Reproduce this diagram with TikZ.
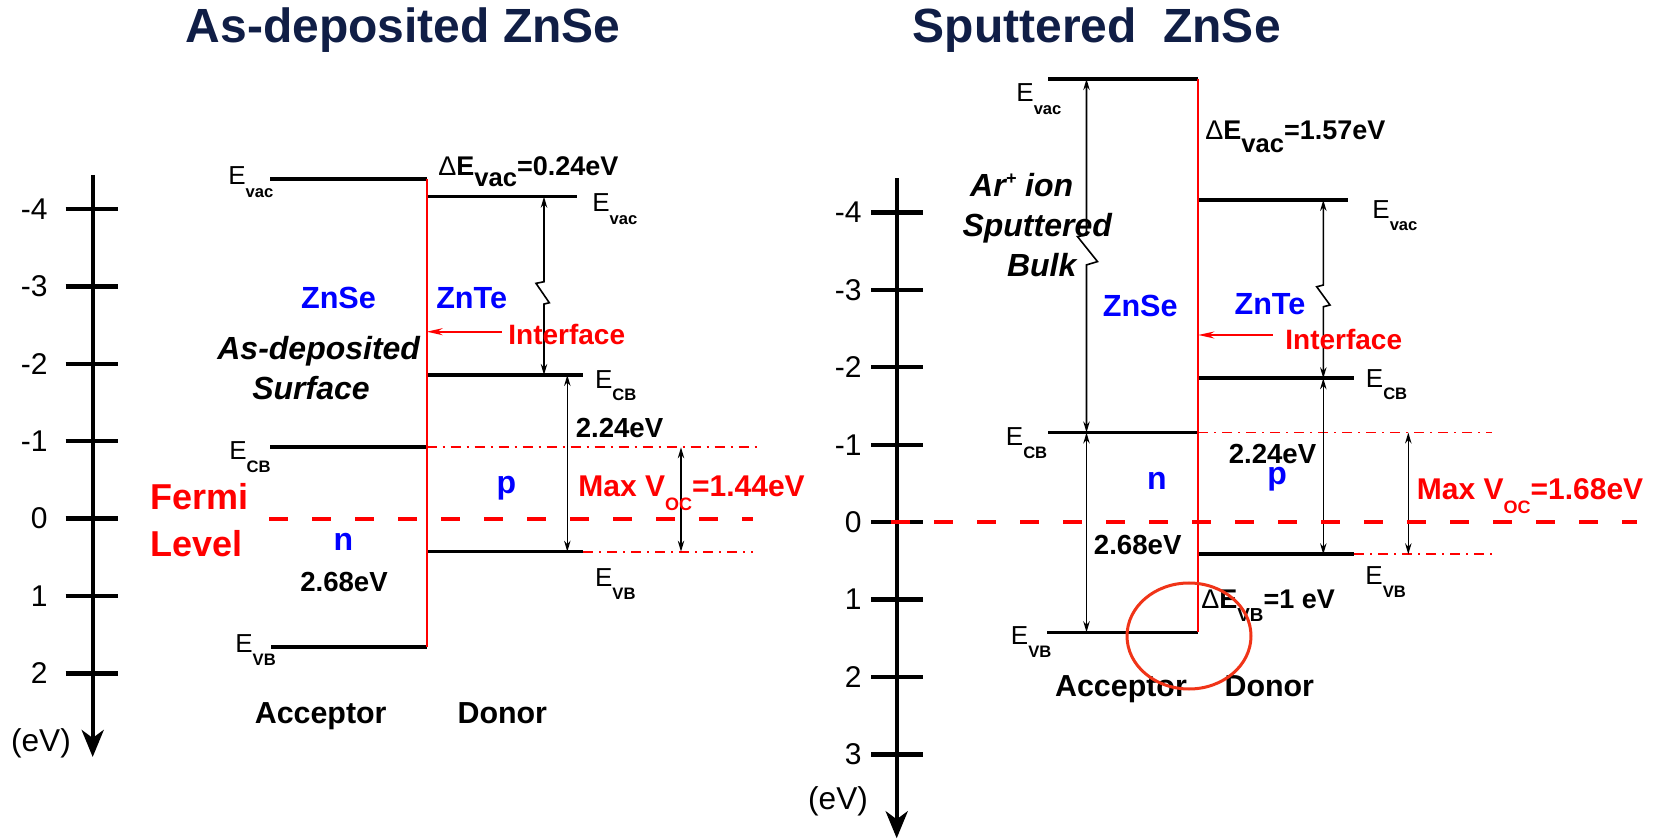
\documentclass[tikz,border=0pt]{standalone}
\usepackage{fontspec}
\setmainfont{Liberation Sans}
\usetikzlibrary{arrows.meta,calc}
\definecolor{titlenavy}{RGB}{16,30,70}
\definecolor{ringred}{RGB}{240,52,24}
\newcommand{\fs}[1]{\fontsize{#1}{#1}\selectfont}
\newcommand{\elev}[1]{E\raisebox{-6.2pt}{\fs{8.3}\bfseries #1}}
\tikzset{
  level/.style={line width=1.8pt},
  axisline/.style={line width=2.2pt},
  junction/.style={red, line width=1pt},
  fermi/.style={red, line width=2pt, dash pattern=on 9.25pt off 12.25pt},
  guide/.style={red, line width=0.85pt, dash pattern=on 5pt off 3pt on 1pt off 3pt},
  meas/.style={<->, >={Stealth[length=5.5pt,width=3.2pt]}, line width=0.8pt},
  iface/.style={red, line width=0.9pt, -{Stealth[length=8pt,width=3.5pt]}},
  titletxt/.style={inner sep=0pt, anchor=base, font=\fs{24}\bfseries, text=titlenavy},
  ticklab/.style={inner sep=0pt, anchor=east, font=\fs{15}},
  elab/.style={inner sep=0pt, anchor=base west, font=\fs{13}},
  dlab/.style={inner sep=0pt, anchor=base west, font=\fs{13.5}\bfseries},
  valtxt/.style={inner sep=0pt, anchor=base, font=\fs{13.8}\bfseries},
  mattxt/.style={inner sep=0pt, anchor=base, font=\fs{15.3}\bfseries, text=blue},
  doptxt/.style={inner sep=0pt, anchor=base, font=\fs{16}\bfseries, text=blue},
  surftxt/.style={inner sep=0pt, anchor=base, font=\fs{16}\bfseries\itshape},
  redlab/.style={inner sep=0pt, anchor=base west, font=\fs{14}\bfseries, text=red},
  voctxt/.style={inner sep=0pt, anchor=base west, font=\fs{15}\bfseries, text=red},
  fermitxt/.style={inner sep=0pt, anchor=base west, font=\fs{18}\bfseries, text=red},
  sidetxt/.style={inner sep=0pt, anchor=base, font=\fs{15.2}\bfseries}
}
\begin{document}
\begin{tikzpicture}[x=0.5pt,y=-0.5pt]
\useasboundingbox (0,0) rectangle (1661,839);
\node[titletxt] (titleA) at (403.3,43) {As-deposited ZnSe};
\node[titletxt] (titleB) at (1096.7,43) {Sputtered\ \ ZnSe};

\coordinate (axAtop) at (92.7,175);
\coordinate (axAend) at (92.7,757);
\draw[axisline,-{Stealth[length=13.5pt,width=11pt,inset=4pt]}] (axAtop) -- (axAend);
\foreach \v [count=\i] in {-4,...,2} {
  \draw[axisline] (65.7,{518.6+77.4*(\v)}) -- (117.7,{518.6+77.4*(\v)});
  \node[ticklab] (tickA\i) at (48,{518.6+77.4*(\v)}) {\v};
}
\node[inner sep=0pt, font=\fs{15.8}] (unitA) at (41,743) {(eV)};

\coordinate (axBtop) at (896.7,178.3);
\coordinate (axBend) at (896.7,838.3);
\draw[axisline,-{Stealth[length=13.5pt,width=11pt,inset=4pt]}] (axBtop) -- (axBend);
\foreach \v [count=\i] in {-4,...,3} {
  \draw[axisline] (871,{522.2+77.45*(\v)}) -- (923.3,{522.2+77.45*(\v)});
  \node[ticklab] (tickB\i) at (862,{522.2+77.45*(\v)}) {\v};
}
\node[inner sep=0pt, font=\fs{15.8}] (unitB) at (838,801.5) {(eV)};

\coordinate (asVac1) at (270,179);    \coordinate (asVac2) at (426.7,179);
\coordinate (asCB1) at (270,447.3);   \coordinate (asCB2) at (426.7,447.3);
\coordinate (asVB1) at (271,647);     \coordinate (asVB2) at (426.7,647);
\coordinate (teVac1) at (428.3,196.7); \coordinate (teVac2) at (577.3,196.7);
\coordinate (teCB1) at (428.3,375);   \coordinate (teCB2) at (583.3,375);
\coordinate (teVB1) at (428.3,551.7); \coordinate (teVB2) at (583.3,551.7);
\foreach \a in {asVac,asCB,asVB,teVac,teCB,teVB}
  \draw[level] (\a1) -- (\a2);
\draw[junction] (asVac2) -- (asVB2);
\coordinate (asCBg) at (760,447.3);
\coordinate (asVBg) at (753.3,551.7);
\draw[guide] (asCB2) -- (asCBg);
\draw[guide] (teVB2) -- (asVBg);

\coordinate (asA1) at (544,196.7);  \coordinate (asA2) at (544,375);
\draw[meas] (asA1) -- ($(asA1)!0.477!(asA2)$) -- ++(-8,1.6) -- ++(13.3,19.4) -- ++(-5.3,1.3) -- (asA2);
\coordinate (asG1) at (567.3,375);  \coordinate (asG2) at (567.3,551.7);
\draw[meas] (asG1) -- (asG2);
\coordinate (asV1) at (681,447.3);  \coordinate (asV2) at (681,551.7);
\draw[meas] (asV1) -- (asV2);
\coordinate (asI) at (501.7,331.7);
\draw[iface] (asI) -- (asI -| asVac2);

\coordinate (asF1) at (269,519);  \coordinate (asF2) at (753.3,519);
\draw[fermi] (asF1) -- (asF2);

\node[elab] (asVacLab) at (228,185) {\elev{vac}};
\node[elab] (asCBLab) at (229,460) {\elev{CB}};
\node[elab] (asVBLab) at (235,653) {\elev{VB}};
\node[elab] (teVacLab) at (592,211.7) {\elev{vac}};
\node[elab] (teCBLab) at (594.7,388.3) {\elev{CB}};
\node[elab] (teVBLab) at (594.7,586.7) {\elev{VB}};
\node[dlab] (asDvac) at (438,176) {{\mdseries Δ}E\raisebox{-5.4pt}{\fs{12.8}vac}=0.24eV};
\node[redlab] (asIface) at (508,345) {Interface};
\node[mattxt] (asZnSe) at (338.5,308.3) {ZnSe};
\node[mattxt] (asZnTe) at (471.7,308.3) {ZnTe};
\node[surftxt] (asSurfA) at (318.7,360) {As-deposited};
\node[surftxt] (asSurfB) at (311,399.5) {Surface};
\node[fermitxt] (asFermiA) at (150,509.3) {Fermi};
\node[fermitxt] (asFermiB) at (150.5,556.7) {Level};
\node[doptxt] (asN) at (343.3,550.5) {n};
\node[doptxt] (asP) at (506.3,493.3) {p};
\node[valtxt] (asGapA) at (344,591) {2.68eV};
\node[valtxt] (asGapT) at (619.5,437.7) {2.24eV};
\node[voctxt] (asVoc) at (578,496.7) {Max V\raisebox{-6.7pt}{\fs{9}OC}=1.44eV};
\node[sidetxt] (asAcc) at (320.7,723.3) {Acceptor};
\node[sidetxt] (asDon) at (502.3,723.3) {Donor};

\coordinate (spVac1) at (1048,79);     \coordinate (spVac2) at (1198.3,79);
\coordinate (spCB1) at (1048,432.5);   \coordinate (spCB2) at (1198.3,432.5);
\coordinate (spVB1) at (1047,632.3);   \coordinate (spVB2) at (1198.3,632.3);
\coordinate (stVac1) at (1198.3,200);  \coordinate (stVac2) at (1348.3,200);
\coordinate (stCB1) at (1198.3,378.3); \coordinate (stCB2) at (1354,378.3);
\coordinate (stVB1) at (1198.3,554.3); \coordinate (stVB2) at (1354,554.3);
\foreach \a in {spVac,spCB,spVB,stVac,stCB,stVB}
  \draw[level] (\a1) -- (\a2);
\draw[junction] (spVac2) -- (spVB2);
\coordinate (spCBg) at (1491.7,432.5);
\coordinate (spVBg) at (1491.7,554.3);
\draw[guide] (spCB2) -- (spCBg);
\draw[guide] (stVB2) -- (spVBg);

\coordinate (spA1) at (1086.5,79);    \coordinate (spA2) at (1086.5,432.5);
\draw[meas] (spA1) -- ($(spA1)!0.441!(spA2)$) -- ++(-9,1.7) -- ++(20,25) -- ++(-11,3.3) -- (spA2);
\coordinate (spG1) at (1086.5,432.5); \coordinate (spG2) at (1086.5,632.3);
\draw[meas] (spG1) -- (spG2);
\coordinate (stA1) at (1323.3,200);   \coordinate (stA2) at (1323.3,378.3);
\draw[meas] (stA1) -- ($(stA1)!0.477!(stA2)$) -- ++(-6.6,1.7) -- ++(13.3,18.3) -- ++(-6.7,1.7) -- (stA2);
\coordinate (stG1) at (1323.3,378.3); \coordinate (stG2) at (1323.3,554.3);
\draw[meas] (stG1) -- (stG2);
\coordinate (spV1) at (1408.3,432.5); \coordinate (spV2) at (1408.3,554.3);
\draw[meas] (spV1) -- (spV2);
\coordinate (spI) at (1272.7,335);
\draw[iface] (spI) -- (spI -| spVac2);

\coordinate (spF1) at (891.4,522.3);  \coordinate (spF2) at (1636.7,522.3);
\draw[fermi] (spF1) -- (spF2);

\node[elab] (spVacLab) at (1016,101.7) {\elev{vac}};
\node[elab] (spCBLab) at (1005.5,446) {\elev{CB}};
\node[elab] (spVBLab) at (1010.5,645) {\elev{VB}};
\node[elab] (stVacLab) at (1372,218.3) {\elev{vac}};
\node[elab] (stCBLab) at (1365.5,387.3) {\elev{CB}};
\node[elab] (stVBLab) at (1365,585) {\elev{VB}};
\node[dlab] (spDvac) at (1205,140) {{\mdseries Δ}E\raisebox{-6.2pt}{\fs{12.8}vac}=1.57eV};
\node[redlab] (spIface) at (1285,350) {Interface};
\node[mattxt] (spZnSe) at (1140.2,316.7) {ZnSe};
\node[mattxt] (spZnTe) at (1270,315) {ZnTe};
\node[surftxt] (spArA) at (1021.7,196.7) {Ar\raisebox{6pt}{\fs{9}+} ion};
\node[surftxt] (spArB) at (1037.2,236.7) {Sputtered};
\node[surftxt] (spArC) at (1041.7,276.7) {Bulk};
\node[doptxt] (spN) at (1156.8,489.3) {n};
\node[doptxt] (spP) at (1277.2,485) {p};
\node[valtxt] (spGapT) at (1272.5,463.3) {2.24eV};
\node[valtxt] (spGapA) at (1137.7,555) {2.68eV};
\node[voctxt] (spVoc) at (1416.5,500) {Max V\raisebox{-6.7pt}{\fs{9}OC}=1.68eV};
\node[dlab] (spDvb) at (1201,608.3) {{\mdseries Δ}E\raisebox{-6.7pt}{\fs{9.4}VB}=1 eV};
\node[sidetxt] (spAcc) at (1121,696.7) {Acceptor};
\node[sidetxt] (spDon) at (1269.3,696.7) {Donor};

\coordinate (ring) at (1189,636);
\draw[ringred, line width=1.5pt] (ring) ellipse [x radius=62, y radius=53];
\end{tikzpicture}
\end{document}
